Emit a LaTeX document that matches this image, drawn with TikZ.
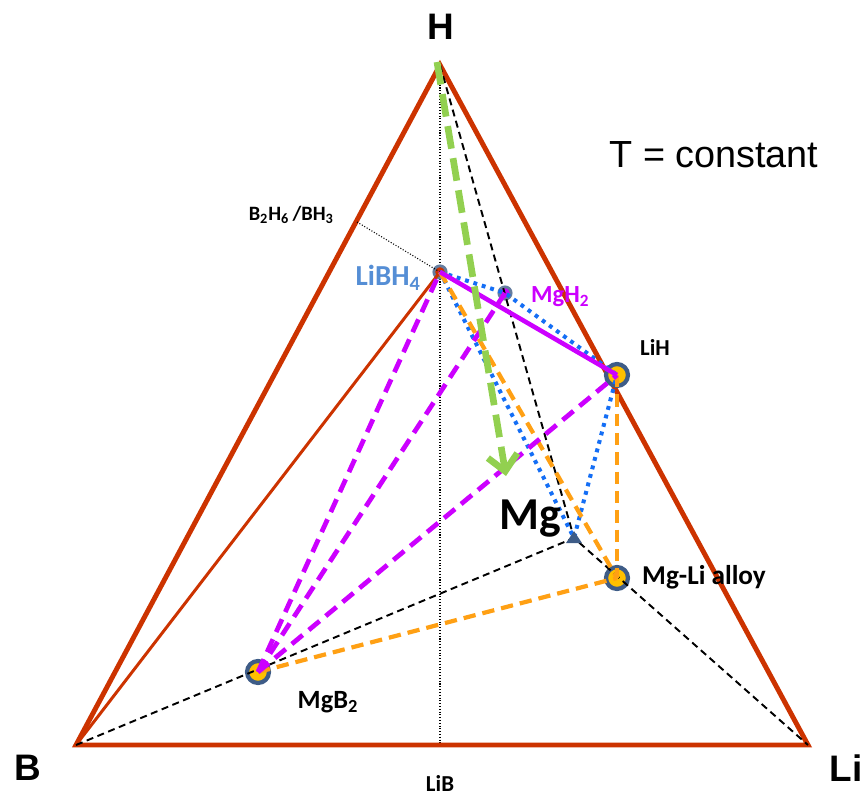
\documentclass[tikz,border=0pt]{standalone}
\usepackage{fontspec}
\setmainfont{Carlito}
\newfontfamily\arialfont{Liberation Sans}
\usetikzlibrary{positioning,arrows.meta,shapes.geometric}

\definecolor{edgered}{RGB}{204,51,0}
\definecolor{phasemag}{RGB}{204,0,255}
\definecolor{phaseblue}{RGB}{20,110,245}
\definecolor{phaseorange}{RGB}{255,160,20}
\definecolor{pathgreen}{RGB}{146,208,80}
\definecolor{ptfill}{RGB}{255,192,0}
\definecolor{ptedge}{RGB}{62,92,135}
\definecolor{labelblue}{RGB}{85,142,213}

\begin{document}
\begin{tikzpicture}[x=0.02cm, y=-0.02cm, >=Stealth,
    corner/.style={font=\arialfont\bfseries\fontsize{21}{23}\selectfont},
    phase/.style={circle, fill=ptfill, draw=ptedge, line width=2.4pt, minimum size=12.5pt, inner sep=0pt},
    smallpt/.style={circle, draw=ptedge!80, line width=1.6pt, minimum size=7pt, inner sep=0pt},
    lbl/.style={font=\bfseries\fontsize{13}{15}\selectfont},
    tieline/.style={phasemag, line width=2.7pt, dash pattern=on 8pt off 4.5pt},
    dotline/.style={phaseblue, line width=2.3pt, dash pattern=on 2.2pt off 2.8pt},
    alloyline/.style={phaseorange, line width=2.4pt, dash pattern=on 7pt off 4pt},
    guide/.style={black, line width=1.1pt, dash pattern=on 4pt off 2.6pt}]
    \useasboundingbox (0,0) rectangle (862,796);

    % Corners of the ternary
    \coordinate (H) at (440,65);
    \coordinate (B) at (76,745);
    \coordinate (Li) at (808,745);
    \coordinate (LiB) at (440,745);
    \coordinate (borane) at (357,222);
    \node[corner] (Hlbl) at (441,27) {H};
    \node[corner] (Blbl) at (28,768) {B};
    \node[corner] (Lilbl) at (846,768) {Li};
    \node[font=\arialfont\fontsize{21.5}{23}\selectfont] (Tlbl) at (714,155) {T = constant};

    % Helper lines
    \draw[black, line width=0.6pt, densely dotted] (H) -- (LiB);

    % Outer triangle
    \draw[edgered, line width=2.8pt, line join=miter] (H) -- (B) -- (Li) -- cycle;

    % Phases
    \node[smallpt, fill=edgered] (LiBH4) at (440,272) {};
    \node[smallpt, fill=phasemag] (MgH2) at (505,293) {};
    \node[phase] (LiH) at (617,375) {};
    \node[phase] (MgLi) at (617,578) {};
    \node[phase] (MgB2) at (258,672) {};
    \coordinate (Mg) at (574,538);

    \draw[black, line width=0.6pt, densely dotted] (borane) -- (LiBH4.center);
    \draw[edgered, line width=1.7pt] (B) -- (LiBH4.center);

    % Black guide lines through Mg
    \draw[guide] (H) -- (Mg) -- (Li);
    \draw[guide] (B) -- (Mg);

    % Blue dotted triangles
    \draw[dotline] (LiBH4.center) -- (MgH2.center) -- (LiH.center);
    \draw[dotline] (LiBH4.center) -- (Mg) -- (LiH.center);

    % Mg marker
    \fill[ptedge] (Mg) ++(-8,5) -- ++(16,0) -- ++(-8,-12) -- cycle;

    % Orange alloy lines
    \draw[alloyline] (LiBH4.center) -- (MgLi.center);
    \draw[alloyline] (LiH.center) -- (MgLi.center);
    \draw[alloyline] (MgB2.center) -- (MgLi.center);

    % Magenta tie lines
    \draw[phasemag, line width=2.6pt] (LiBH4.center) -- (LiH.center);
    \draw[tieline] (MgB2.center) -- (LiBH4.center);
    \draw[tieline] (MgB2.center) -- (MgH2.center);
    \draw[tieline] (MgB2.center) -- (LiH.center);

    % Decomposition path
    \coordinate (pathend) at (506,476);
    \draw[pathgreen, line width=3.8pt, dash pattern=on 13pt off 5.5pt,
          -{Straight Barb[length=9pt, width=17pt, line width=3.8pt]}] (437,62) -- (pathend);

    % Labels
    \node[lbl, font=\bfseries\fontsize{11.6}{13}\selectfont, anchor=east] (boranelbl) at (340,215) {B\textsubscript{2}H\textsubscript{6}\,/BH\textsubscript{3}};
    \node[lbl, labelblue, font=\bfseries\fontsize{16.5}{18}\selectfont, anchor=east] (LiBH4lbl) at (427,278) {LiBH\textsubscript{4}};
    \node[lbl, phasemag, font=\bfseries\fontsize{14}{16}\selectfont, anchor=west] (MgH2lbl) at (525,297) {MgH\textsubscript{2}};
    \node[lbl, anchor=west] (LiHlbl) at (634,347) {LiH};
    \node[font=\bfseries\fontsize{26}{28}\selectfont] (Mglbl) at (530,519) {Mg};
    \node[lbl, font=\bfseries\fontsize{15.5}{17}\selectfont, anchor=west] (MgLilbl) at (636,577) {Mg-Li alloy};
    \node[lbl, font=\bfseries\fontsize{15}{17}\selectfont] (MgB2lbl) at (328,702) {MgB\textsubscript{2}};
    \node[lbl, inner sep=1pt] (LiBlbl) at (440,783) {LiB};
\end{tikzpicture}
\end{document}
